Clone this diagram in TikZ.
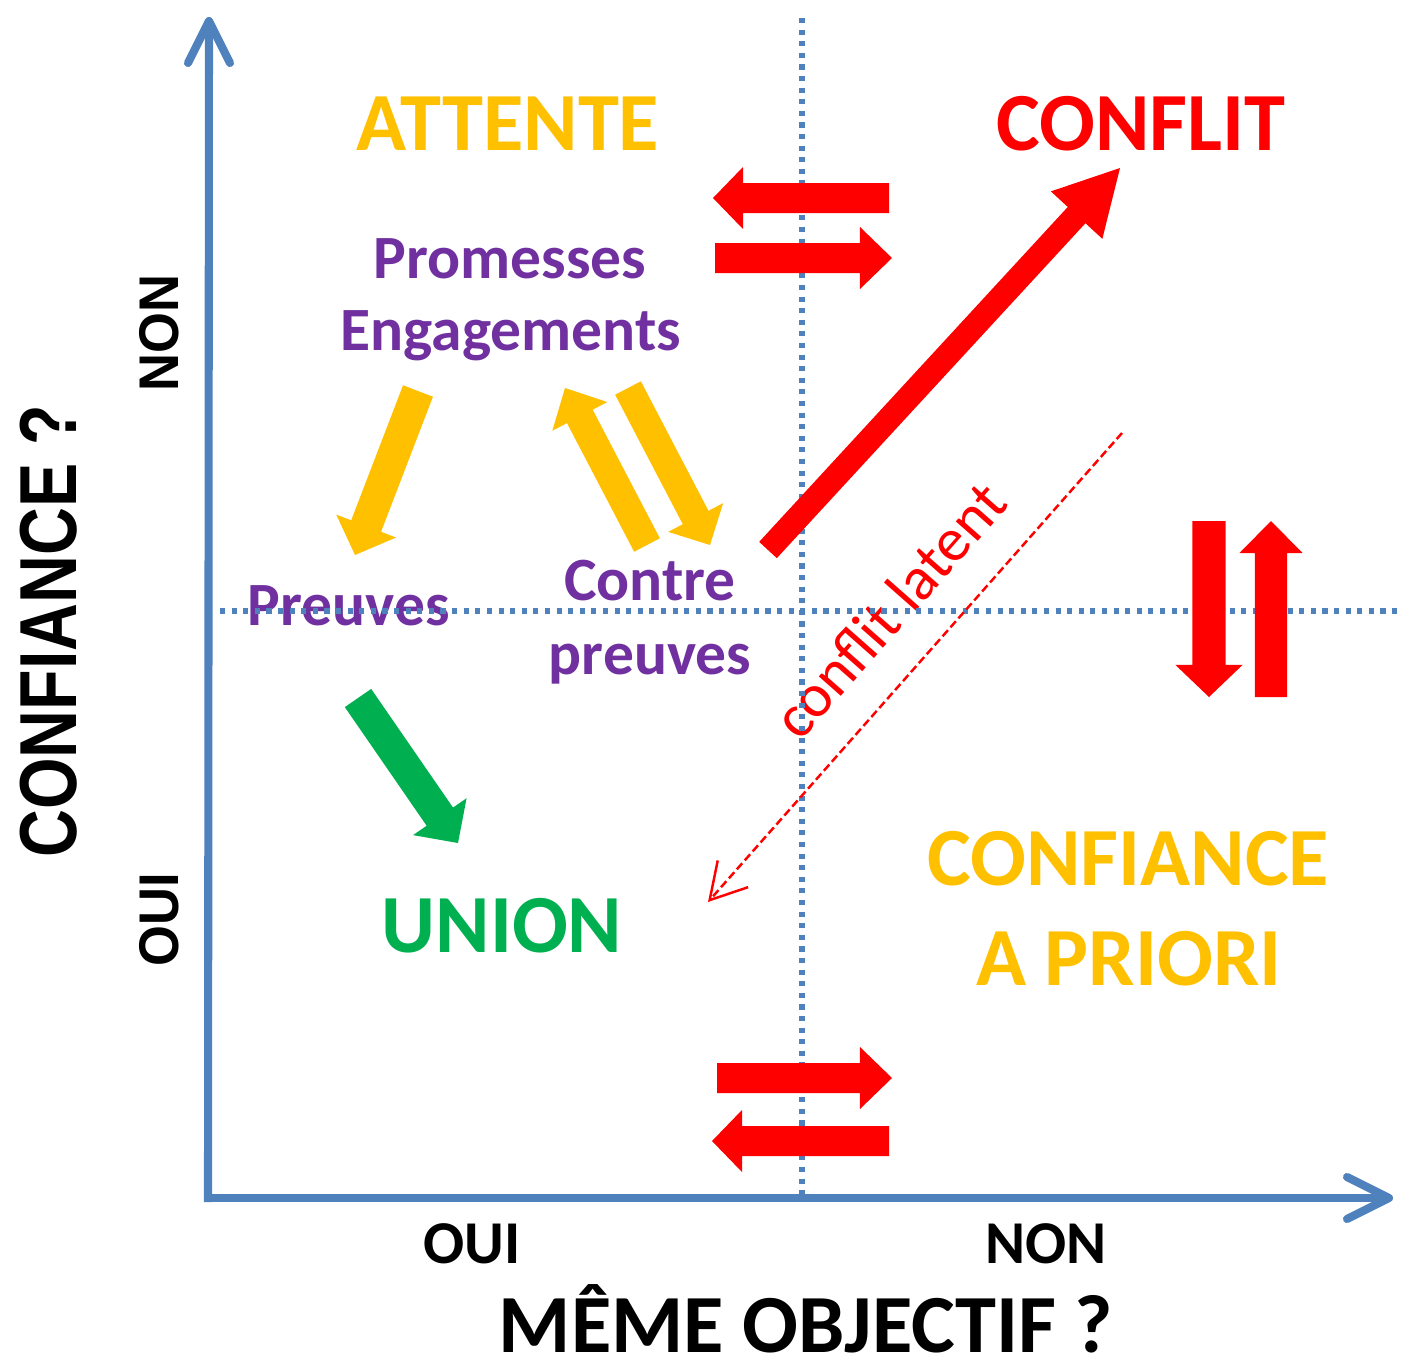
\documentclass[tikz,border=0pt]{standalone}
\usepackage{fontspec}
\setmainfont{Carlito}
\newfontfamily\gridfont{Liberation Sans}
\usetikzlibrary{calc,arrows.meta}

\definecolor{axisblue}{RGB}{79,129,189}
\definecolor{dotblue}{RGB}{68,114,196}
\definecolor{gold}{RGB}{255,192,0}
\definecolor{alarm}{RGB}{255,0,0}
\definecolor{leaf}{RGB}{0,176,80}
\definecolor{plum}{RGB}{112,48,160}

% Block arrow: #1 fill colour, #2 tail, #3 tip, #4 half shaft width,
% #5 half head width, #6 head length
\newcommand\blockarrow[6]{%
  \fill[#1] let \p1=($(#3)!#6!(#2)$) in
    ($(#2)!#4!90:(#3)$) -- ($(\p1)!#4!90:(#3)$) -- ($(\p1)!#5!90:(#3)$) -- (#3)
    -- ($(\p1)!#5!-90:(#3)$) -- ($(\p1)!#4!-90:(#3)$) -- ($(#2)!#4!-90:(#3)$) -- cycle;}

\begin{document}
\begin{tikzpicture}[x=0.01cm,y=-0.01cm,
  axis/.style={draw=axisblue,line width=2.3pt},
  axishead/.style={axis,line cap=round,line join=round},
  gridline/.style={draw=axisblue,line width=1.45pt,dash pattern=on 1.45pt off 1.85pt},
  title/.style={font=\fontsize{23.5}{28}\selectfont\bfseries,anchor=base,inner sep=0pt},
  stage/.style={font=\fontsize{17.5}{21}\selectfont\bfseries,text=plum,anchor=base,inner sep=0pt},
  tick/.style={font=\fontsize{17.3}{21}\selectfont\bfseries,anchor=base,inner sep=0pt},
  vtick/.style={font=\gridfont\fontsize{15.9}{19}\selectfont\bfseries,anchor=base,inner sep=0pt,rotate=90},
]
\useasboundingbox (0,0) rectangle (1402,1369);

% ---- labels ----
\node[title,text=gold]  (attente) at (508,150) {ATTENTE};
\node[title,text=alarm] (conflit) at (1141,150) {CONFLIT};
\node[stage] (promesses) at (510,278) {Promesses};
\node[stage] (engagements) at (511,350) {Engagements};
\node[stage] (preuves) at (349,625) {Preuves};
\node[stage] (contre) at (650,600) {Contre};
\node[stage] (cpreuves) at (650,674) {preuves};
\node[title,text=leaf] (union) at (502,952) {UNION};
\node[title,text=gold] (confiance) at (1128,885) {CONFIANCE};
\node[title,text=gold] (apriori) at (1129,985) {A PRIORI};
\node[font=\fontsize{17.5}{21}\selectfont,text=alarm,rotate=48.6,inner sep=0pt] (latent) at (889,610) {conflit latent};

\node[tick] (xoui) at (472,1263) {OUI};
\node[tick] (xnon) at (1046,1263) {NON};
\node[title] (xtitle) at (806,1352) {MÊME OBJECTIF ?};
\node[vtick] (ynon) at (178,333) {\scalebox{0.94}[1]{NON}};
\node[vtick] (youi) at (178,920) {\scalebox{0.94}[1]{OUI}};
\node[vtick,font=\gridfont\fontsize{23}{28}\selectfont\bfseries] (ytitle) at (77,631) {\scalebox{0.82}[1]{CONFIANCE ?}};

% ---- quadrant separators ----
\coordinate (vtop) at (802,18);
\coordinate (vbot) at (802,1195);
\coordinate (hleft) at (220,611);
\coordinate (hright) at (1398,611);
\draw[gridline] (vtop) -- (vbot);
\draw[gridline] (hleft) -- (hright);

% ---- axes ----
\coordinate (O) at (208,1198);
\coordinate (ytop) at (209,21);
\coordinate (xend) at (1389,1198);
\draw[axis] (208,1202) -- (ytop);
\draw[axis] (204,1198) -- (xend);
\draw[axishead] ($(ytop)+(-21,42)$) -- (ytop) -- ($(ytop)+(21,42)$);
\draw[axishead] ($(xend)+(-42,-21)$) -- (xend) -- ($(xend)+(-42,21)$);

% ---- horizontal exchanges ----
\coordinate (a1s) at (889,198);  \coordinate (a1e) at (713,198);
\coordinate (a2s) at (715,258);  \coordinate (a2e) at (892,258);
\coordinate (a3s) at (717,1078); \coordinate (a3e) at (892,1078);
\coordinate (a4s) at (889,1141); \coordinate (a4e) at (712,1141);
\blockarrow{alarm}{a1s}{a1e}{0.15cm}{0.31cm}{0.30cm}
\blockarrow{alarm}{a2s}{a2e}{0.15cm}{0.31cm}{0.32cm}
\blockarrow{alarm}{a3s}{a3e}{0.15cm}{0.31cm}{0.32cm}
\blockarrow{alarm}{a4s}{a4e}{0.15cm}{0.31cm}{0.30cm}

% ---- vertical exchanges ----
\coordinate (v1s) at (1209,521); \coordinate (v1e) at (1209,697);
\coordinate (v2s) at (1271,697); \coordinate (v2e) at (1271,521);
\blockarrow{alarm}{v1s}{v1e}{0.165cm}{0.335cm}{0.32cm}
\blockarrow{alarm}{v2s}{v2e}{0.16cm}{0.315cm}{0.32cm}

% ---- escalation to conflict ----
\coordinate (c1s) at (768,550); \coordinate (c1e) at (1120,168);
\blockarrow{alarm}{c1s}{c1e}{0.12cm}{0.35cm}{0.64cm}

% ---- latent conflict ----
\coordinate (l1s) at (1122,433); \coordinate (l1e) at (708,902);
\draw[alarm,line width=0.7pt,dash pattern=on 2.3pt off 1.1pt,
      -{Straight Barb[length=10pt,width=11.5pt]}] (l1s) -- (l1e);

% ---- trust-building loop ----
\coordinate (y1s) at (418,391); \coordinate (y1e) at (355,555);
\coordinate (y2s) at (647,545); \coordinate (y2e) at (565,388);
\coordinate (y3s) at (628,388); \coordinate (y3e) at (710,545);
\blockarrow{gold}{y1s}{y1e}{0.16cm}{0.32cm}{0.31cm}
\blockarrow{gold}{y2s}{y2e}{0.145cm}{0.31cm}{0.32cm}
\blockarrow{gold}{y3s}{y3e}{0.145cm}{0.31cm}{0.31cm}

% ---- towards union ----
\coordinate (g1s) at (358,698); \coordinate (g1e) at (458,843);
\blockarrow{leaf}{g1s}{g1e}{0.16cm}{0.325cm}{0.32cm}
\end{tikzpicture}
\end{document}
